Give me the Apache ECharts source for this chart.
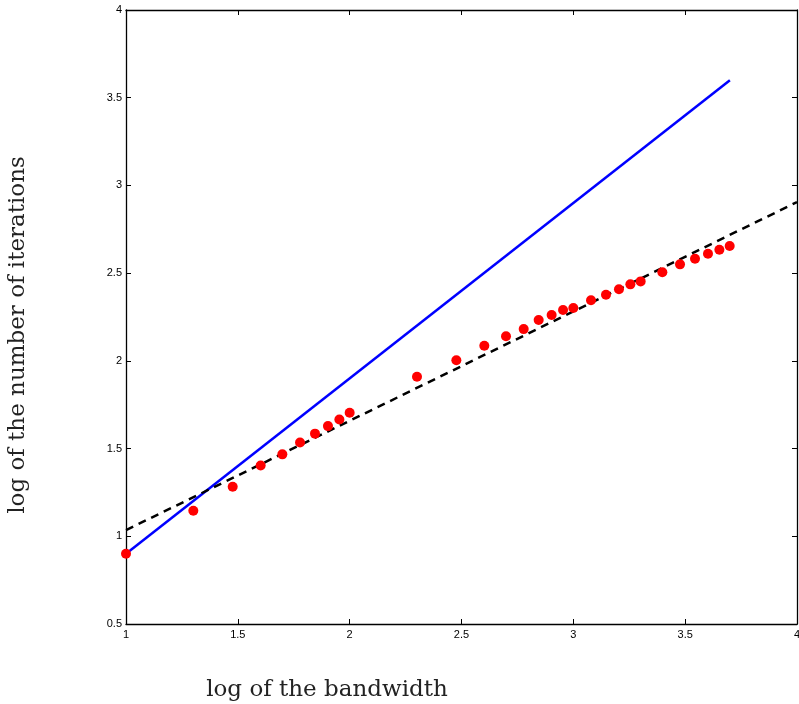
<!DOCTYPE html>
<html>
<head>
<meta charset="utf-8">
<script src="https://cdn.jsdelivr.net/npm/echarts@6/dist/echarts.min.js"></script>
<style>html,body{margin:0;padding:0;background:#fff}#c{width:799px;height:704px}</style>
</head>
<body>
<div id="c"></div>
<script>
// log10 of bandwidth vs log10 of number of iterations
const logBandwidth = [1.0, 1.301, 1.477, 1.602, 1.699, 1.778, 1.845, 1.903, 1.954, 2.0,
  2.301, 2.477, 2.602, 2.699, 2.778, 2.845, 2.903, 2.954, 3.0,
  3.079, 3.146, 3.204, 3.255, 3.301, 3.398, 3.477, 3.544, 3.602, 3.653, 3.699];
const logIterations = [0.9, 1.146, 1.282, 1.404, 1.467, 1.535, 1.585, 1.628, 1.666, 1.704,
  1.909, 2.003, 2.086, 2.140, 2.181, 2.233, 2.261, 2.290, 2.301,
  2.345, 2.377, 2.408, 2.436, 2.453, 2.505, 2.550, 2.582, 2.611, 2.633, 2.655];
const slopeOneLine = [[1.0, 0.9], [3.7, 3.6]];
const fitLine = [[1.0, 1.035], [4.0, 2.905]];
const xTicks = [1, 1.5, 2, 2.5, 3, 3.5, 4];
const yTicks = [0.5, 1, 1.5, 2, 2.5, 3, 3.5, 4];

const chart = echarts.init(document.getElementById('c'), null, {renderer: 'canvas', width: 799, height: 704});
const axisLineStyle = {lineStyle: {color: '#000', width: 1.3}};
const tickStyle = {show: true, inside: true, length: 5, lineStyle: {color: '#000', width: 1}};
const lblFont = {color: '#000', fontSize: 11, fontFamily: 'Liberation Sans, Arial, sans-serif'};
const fmt = v => String(v);
const titleFont = '23px "DejaVu Serif", "Liberation Serif", serif';
chart.setOption({
  animation: false,
  backgroundColor: '#fff',
  grid: {left: 126, width: 671, top: 10, height: 614, containLabel: false, outerBoundsMode: 'none'},
  xAxis: [
    {type: 'value', min: 1, max: 4, interval: 0.5, position: 'bottom',
     axisLine: axisLineStyle, axisTick: tickStyle, splitLine: {show: false},
     axisLabel: Object.assign({margin: 5, formatter: fmt}, lblFont)},
    {type: 'value', min: 1, max: 4, interval: 0.5, position: 'top',
     axisLine: axisLineStyle, axisTick: tickStyle, splitLine: {show: false},
     axisLabel: {show: false}}
  ],
  yAxis: [
    {type: 'value', min: 0.5, max: 4, interval: 0.5, position: 'left',
     axisLine: axisLineStyle, axisTick: tickStyle, splitLine: {show: false},
     axisLabel: Object.assign({margin: 4, formatter: fmt}, lblFont)},
    {type: 'value', min: 0.5, max: 4, interval: 0.5, position: 'right',
     axisLine: axisLineStyle, axisTick: tickStyle, splitLine: {show: false},
     axisLabel: {show: false}}
  ],
  graphic: [
    {type: 'text', x: 327, y: 690,
     style: {text: 'log of the bandwidth', font: titleFont, fill: '#222',
             align: 'center', verticalAlign: 'middle'}},
    {type: 'text', x: 18, y: 335, rotation: Math.PI / 2,
     style: {text: 'log of the number of iterations', font: titleFont, fill: '#222',
             align: 'center', verticalAlign: 'middle'}}
  ],
  series: [
    {type: 'line', data: slopeOneLine, showSymbol: false, symbol: 'none',
     lineStyle: {color: '#0000ff', width: 2.5}, z: 2},
    {type: 'line', data: fitLine, showSymbol: false, symbol: 'none',
     lineStyle: {color: '#000', width: 2.5, type: [8, 6]}, z: 2},
    {type: 'scatter', data: logBandwidth.map((x, i) => [x, logIterations[i]]),
     symbol: 'circle', symbolSize: 10, itemStyle: {color: '#ff0000', opacity: 1}, z: 3}
  ]
});
</script>
</body>
</html>
